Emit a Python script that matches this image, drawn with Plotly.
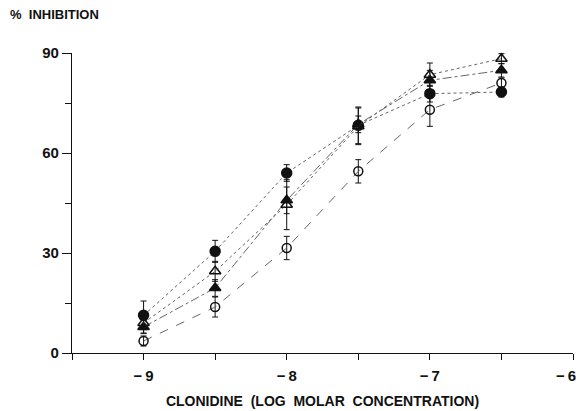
import plotly.graph_objects as go

log_conc = [-9, -8.5, -8, -7.5, -7, -6.5]

filled_circle = [11.3, 30.5, 54.0, 68.3, 77.8, 78.3]
filled_circle_err = [4.3, 3.3, 2.5, 5.5, 2.5, 1.5]

filled_triangle = [7.8, 19.5, 45.8, 68.6, 81.8, 84.8]
filled_triangle_err = [2.0, 2.5, 4.0, 2.5, 3.0, 2.0]

open_triangle = [9.0, 24.5, 44.5, 68.0, 83.5, 88.3]
open_triangle_err = [3.0, 3.0, 7.5, 5.5, 3.5, 1.5]

open_circle = [3.6, 13.8, 31.5, 54.5, 73.0, 81.0]
open_circle_err = [1.5, 3.0, 3.5, 3.5, 5.0, 1.5]

y_ticks = [0, 30, 60, 90]
y_tick_labels = ["0", "30", "60", "90"]
x_ticks = [-9, -8, -7, -6]
x_tick_labels = ["\u2212\u20099", "\u2212\u20098", "\u2212\u20097", "\u2212\u20096"]

FONT = "Liberation Sans, Arial, sans-serif"
INK = "#111111"

W, H = 579, 411
L, R, T, B = 72, 6, 53, 58
PW, PH = W - L - R, H - T - B

series = [
    ("filled circle", filled_circle, filled_circle_err, "circle", 10, "dot"),
    ("filled triangle", filled_triangle, filled_triangle_err, "triangle-up", 10, "dashdot"),
    ("open triangle", open_triangle, open_triangle_err, "triangle-up-open", 10, "dot"),
    ("open circle", open_circle, open_circle_err, "circle-open", 9, "dash"),
]

fig = go.Figure()
for name, ys, errs, sym, size, dash in series:
    fig.add_trace(go.Scatter(
        x=log_conc, y=ys, name=name, mode="lines+markers",
        line=dict(color="#666666", width=1, dash=dash),
        marker=dict(symbol=sym, size=size, color=INK,
                    line=dict(color=INK, width=1.5)),
        error_y=dict(type="data", array=errs, visible=True,
                     color=INK, thickness=1, width=3),
        cliponaxis=False,
    ))

# the last x tick label sits at the right edge; draw it right-anchored so it stays inside
edge_label = x_tick_labels[-1]
shown_x_labels = x_tick_labels[:-1] + [""]

fig.update_layout(
    width=W, height=H,
    margin=dict(l=L, r=R, t=T, b=B, autoexpand=False),
    paper_bgcolor="white", plot_bgcolor="white",
    showlegend=False,
    font=dict(family=FONT, color=INK, size=14),
    annotations=[
        dict(text="<b>%  INHIBITION</b>", x=(8 - L) / PW, y=1 + (T - 15) / PH,
             xref="paper", yref="paper", xanchor="left", yanchor="middle",
             showarrow=False, font=dict(size=13, family=FONT, color=INK)),
        dict(text="<b>" + edge_label + "</b>", x=1 + (R - 1) / PW,
             y=-(375 - (H - B)) / PH, xref="paper", yref="paper",
             xanchor="right", yanchor="middle", showarrow=False,
             font=dict(size=15, family=FONT, color=INK)),
    ],
)

fig.update_xaxes(
    range=[-9.5, -6], showgrid=False, zeroline=False, automargin=False,
    showline=True, linecolor=INK, linewidth=1.2,
    tickmode="array", tickvals=x_ticks, ticktext=shown_x_labels,
    ticks="outside", ticklen=6, tickcolor=INK, tickwidth=1.2,
    ticklabelstandoff=3,
    tickfont=dict(size=15, family=FONT, color=INK, weight="bold"),
    minor=dict(dtick=0.5, tick0=-9.5, ticks="outside", ticklen=6,
               tickcolor=INK, tickwidth=1.2, showgrid=False),
    title=dict(text="CLONIDINE  (LOG  MOLAR  CONCENTRATION)", standoff=13,
               font=dict(size=14, family=FONT, color=INK, weight="bold")),
)
fig.update_yaxes(
    range=[0, 90], showgrid=False, zeroline=False, automargin=False,
    showline=True, linecolor=INK, linewidth=1.2,
    tickmode="array", tickvals=y_ticks, ticktext=y_tick_labels,
    ticks="outside", ticklen=9, tickcolor=INK, tickwidth=1.2,
    tickfont=dict(size=15, family=FONT, color=INK, weight="bold"),
    minor=dict(dtick=15, tick0=0, ticks="outside", ticklen=6,
               tickcolor=INK, tickwidth=1.2, showgrid=False),
)

fig.write_html("out.html",
               config={"displayModeBar": False},
               post_script="document.body.style.margin='0';")
